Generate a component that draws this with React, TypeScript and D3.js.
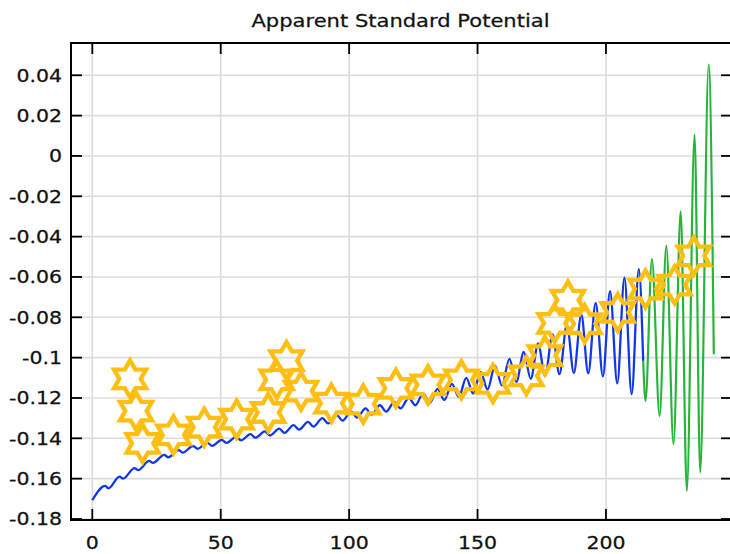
import React from "react";
import * as d3 from "d3";

const TITLE = "Apparent Standard Potential";
const X_TICKS = [0, 50, 100, 150, 200];
const Y_TICKS = [-0.18, -0.16, -0.14, -0.12, -0.1, -0.08, -0.06, -0.04, -0.02, 0, 0.02, 0.04];

const blueX = [0.0, 5.0, 6.3, 10.6, 12.0, 16.4, 17.9, 22.1, 23.6, 28.0, 29.6, 33.6, 35.3, 39.2, 41.0, 44.8, 46.6, 50.4, 52.2, 56.0, 57.9, 61.6, 63.5, 67.2, 69.2, 72.8, 74.8, 78.4, 80.5, 84.0, 86.1, 89.6, 91.8, 95.2, 97.4, 100.8, 103.1, 106.4, 108.7, 112.0, 114.4, 117.6, 120.0, 123.2, 125.8, 128.8, 131.4, 134.4, 137.1, 140.0, 142.7, 145.6, 148.3, 151.2, 153.9, 156.8, 159.5, 162.4, 165.1, 168.0, 170.7, 173.6, 176.3, 179.2, 181.9, 184.8, 187.5, 190.4, 193.1, 196.0, 198.8, 201.6, 204.4, 207.2, 210.0, 212.8, 214.5];
const blueY = [-0.1707, -0.1636, -0.1648, -0.159, -0.16, -0.1548, -0.1558, -0.1512, -0.1522, -0.1482, -0.1494, -0.1458, -0.1471, -0.1438, -0.1452, -0.1422, -0.1437, -0.1408, -0.1423, -0.1393, -0.141, -0.1379, -0.1397, -0.1366, -0.1386, -0.1352, -0.1373, -0.1335, -0.1357, -0.1318, -0.1342, -0.13, -0.1326, -0.1285, -0.1312, -0.1268, -0.1297, -0.1252, -0.1283, -0.1236, -0.1268, -0.122, -0.1252, -0.12, -0.1236, -0.1178, -0.1225, -0.1155, -0.121, -0.113, -0.1195, -0.11, -0.1178, -0.1072, -0.1158, -0.104, -0.1138, -0.1006, -0.112, -0.0972, -0.1105, -0.093, -0.1092, -0.0885, -0.1082, -0.0836, -0.1076, -0.0786, -0.1078, -0.0728, -0.1093, -0.067, -0.1128, -0.0604, -0.1181, -0.0561, -0.1016];

const greenX = [214.5, 215.4, 217.9, 220.9, 223.5, 226.3, 229.1, 231.5, 234.5, 236.7, 240.0, 242.0];
const greenY = [-0.1016, -0.1214, -0.0511, -0.1289, -0.0445, -0.1429, -0.0275, -0.1661, 0.0106, -0.157, 0.0453, -0.0983];

const starX = [14.7, 17.0, 19.6, 31.6, 43.6, 56.2, 68.5, 71.8, 75.6, 81.3, 93.1, 105.5, 118.2, 130.7, 143.7, 156.0, 169.0, 176.2, 180.0, 185.2, 191.7, 204.6, 215.4, 226.7, 234.2];
const starY = [-0.1105, -0.1265, -0.1425, -0.1383, -0.1345, -0.1305, -0.1272, -0.111, -0.1015, -0.1166, -0.1226, -0.123, -0.1152, -0.1135, -0.111, -0.1128, -0.109, -0.099, -0.083, -0.0715, -0.0832, -0.0776, -0.066, -0.064, -0.0495];

const W = 730, H = 554;
const L = 71, R = 730, T = 43, B = 520;
const FONT = "DejaVu Sans, sans-serif";
const SX = 1.17;

function starPath(cx: number, cy: number, rOut: number) {
  const rIn = rOut / Math.sqrt(3);
  const pts: [number, number][] = [];
  for (let i = 0; i < 12; i++) {
    const a = (-90 + i * 30) * Math.PI / 180;
    const r = i % 2 === 0 ? rOut : rIn;
    pts.push([cx + r * Math.cos(a), cy + r * Math.sin(a)]);
  }
  return "M" + pts.map(p => p[0].toFixed(2) + "," + p[1].toFixed(2)).join("L") + "Z";
}

function Label({ x, y, anchor, size, children }: { x: number; y: number; anchor: string; size: number; children: React.ReactNode }) {
  return (
    <g transform={`translate(${x},${y}) scale(${SX},1)`}>
      <text x={0} y={0} textAnchor={anchor as any} fontSize={size} fill="#111" stroke="#111" strokeWidth={0.25}>{children}</text>
    </g>
  );
}

export default function App() {
  const x = d3.scaleLinear().domain([-8.3, 248.3]).range([L, R]);
  const y = d3.scaleLinear().domain([-0.1805, 0.056]).range([B, T]);
  const line = d3.line<[number, number]>().x(d => x(d[0])).y(d => y(d[1])).curve(d3.curveMonotoneX);
  const blue = blueX.map((v, i) => [v, blueY[i]] as [number, number]);
  const green = greenX.map((v, i) => [v, greenY[i]] as [number, number]);
  const fmt = (v: number) => String(+v.toFixed(2));
  const tick = 11;
  return (
    <svg width={W} height={H} style={{ position: "absolute", left: 0, top: 0, background: "#fff" }} fontFamily={FONT}>
      <rect x={0} y={0} width={W} height={H} fill="#fff" />
      <Label x={(L + R) / 2} y={26.5} anchor="middle" size={18}>{TITLE}</Label>
      {X_TICKS.map(t => (
        <line key={"gx" + t} x1={x(t)} x2={x(t)} y1={T} y2={B} stroke="#dcdcdc" strokeWidth={1.6} />
      ))}
      {Y_TICKS.map(t => (
        <line key={"gy" + t} x1={L} x2={R} y1={y(t)} y2={y(t)} stroke="#dcdcdc" strokeWidth={1.6} />
      ))}
      <path d={line(blue) || ""} fill="none" stroke="#1238e6" strokeWidth={2.3} />
      <path d={line(green) || ""} fill="none" stroke="#26b53a" strokeWidth={2.2} />
      {starX.map((v, i) => (
        <path key={"s" + i} d={starPath(x(v), y(starY[i]), 18.5)} fill="none" stroke="#FFBE12" strokeWidth={4.3} strokeLinejoin="miter" />
      ))}
      <rect x={L} y={T} width={R - L + 2} height={B - T} fill="none" stroke="#000" strokeWidth={2} />
      {X_TICKS.map(t => (
        <g key={"tx" + t}>
          <line x1={x(t)} x2={x(t)} y1={B} y2={B - tick} stroke="#000" strokeWidth={1.8} />
          <line x1={x(t)} x2={x(t)} y1={T} y2={T + tick} stroke="#000" strokeWidth={1.8} />
          <Label x={x(t)} y={549} anchor="middle" size={17.5}>{t}</Label>
        </g>
      ))}
      {Y_TICKS.map(t => (
        <g key={"ty" + t}>
          <line x1={L} x2={L + tick} y1={y(t)} y2={y(t)} stroke="#000" strokeWidth={1.8} />
          <line x1={R + 2} x2={R + 2 - tick} y1={y(t)} y2={y(t)} stroke="#000" strokeWidth={1.8} />
          <Label x={62} y={y(t) + 6.4} anchor="end" size={17.5}>{fmt(t)}</Label>
        </g>
      ))}
    </svg>
  );
}
